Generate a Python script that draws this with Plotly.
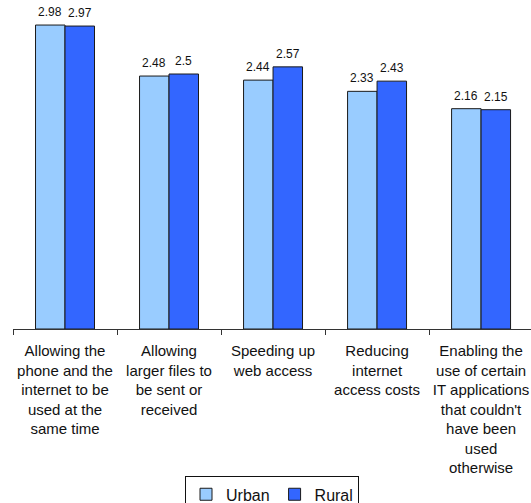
import plotly.graph_objects as go

# Benefit categories shown along the x axis
categories = [
    "Allowing the<br>phone and the<br>internet to be<br>used at the<br>same time",
    "Allowing<br>larger files to<br>be sent or<br>received",
    "Speeding up<br>web access",
    "Reducing<br>internet<br>access costs",
    "Enabling the<br>use of certain<br>IT applications<br>that couldn't<br>have been<br>used<br>otherwise",
]

# Mean scores by area
urban = [2.98, 2.48, 2.44, 2.33, 2.16]
rural = [2.97, 2.5, 2.57, 2.43, 2.15]

FONT = "Arial, 'Liberation Sans', sans-serif"
OUTLINE = "#1a1a1a"
BARGAP = 0.433

fig = go.Figure()
fig.add_trace(go.Bar(
    name="Urban", x=categories, y=urban,
    marker=dict(color="#99CCFF", line=dict(color=OUTLINE, width=1)),
))
fig.add_trace(go.Bar(
    name="Rural", x=categories, y=rural,
    marker=dict(color="#3366FF", line=dict(color=OUTLINE, width=1)),
))

# Value labels centred over each bar of the pair
half = (1 - BARGAP) / 4
for i, (u, r) in enumerate(zip(urban, rural)):
    for dx, v in ((-half, u), (half, r)):
        fig.add_annotation(
            x=i + dx, y=v, xref="x", yref="y", text=str(v),
            showarrow=False, yanchor="bottom", xanchor="center", yshift=4,
            font=dict(size=12, color="#111", family=FONT),
        )

fig.update_layout(
    width=531, height=503,
    margin=dict(l=13, r=0, t=3, b=174, autoexpand=False),
    paper_bgcolor="white", plot_bgcolor="white",
    font=dict(family=FONT, color="#111"),
    barmode="group", bargap=BARGAP, bargroupgap=0,
    showlegend=True,
    legend=dict(
        orientation="h", x=0.5, xanchor="center", y=-0.452, yanchor="top",
        bordercolor="#111", borderwidth=1, font=dict(size=16, family=FONT),
        itemwidth=30, tracegroupgap=0,
    ),
    xaxis=dict(
        range=[-0.5, 4.48], showline=True, linecolor="#333", linewidth=1,
        ticks="outside", tickson="boundaries", ticklen=5, tickcolor="#333",
        tickangle=0, automargin=False, ticklabelstandoff=8,
        tickfont=dict(size=15, family=FONT, color="#111"),
        showgrid=False, zeroline=False,
    ),
    yaxis=dict(range=[0, 326 / 102], visible=False, showgrid=False,
               automargin=False),
)

fig.write_html("out.html")
